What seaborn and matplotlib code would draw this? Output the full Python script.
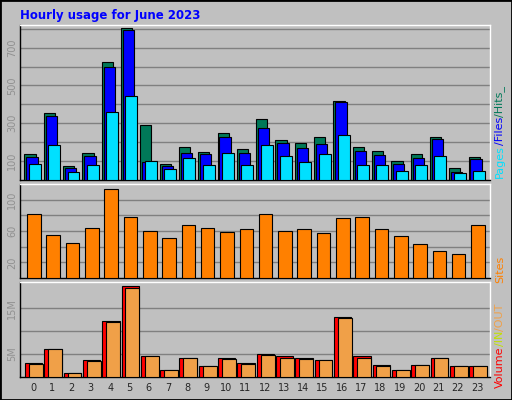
import numpy as np
import matplotlib
matplotlib.use("Agg")
import matplotlib.pyplot as plt
import seaborn as sns

sns.set_style("white")
plt.rcParams['font.family'] = ['DejaVu Sans']

hours = list(range(24))
hits = [137,353,75,142,626,802,289,84,174,147,247,163,321,211,195,226,416,174,153,100,137,226,63,121]
files = [123,337,63,128,596,795,96,75,142,137,226,142,274,195,168,189,411,153,132,84,116,216,42,111]
pages = [84,184,42,79,358,442,100,58,116,79,142,79,184,126,95,137,237,79,79,47,79,126,37,47]
sites = [82,55,45,64,113,78,60,51,68,64,59,63,82,60,63,58,77,78,63,53,43,34,31,68]
volume = [3.1,6.2,0.95,3.6,12.1,19.8,4.5,1.6,4.2,2.5,4.2,3.1,5.1,4.5,4.2,3.8,13.0,4.5,2.7,1.6,2.7,4.2,2.3,2.3]
vol_out = [2.9,6.0,0.95,3.4,11.9,19.3,4.5,1.6,4.2,2.5,4.0,2.9,4.9,4.2,4.0,3.6,12.8,4.2,2.5,1.6,2.7,4.2,2.3,2.3]

BG = "#C0C0C0"
fig = plt.figure(figsize=(5.12, 4.0), dpi=100, facecolor=BG)
W, H = 512, 400
def mk(y0, y1):
    return fig.add_axes([20/W, 1 - y1/H, 470/W, (y1 - y0)/H], facecolor=BG)

ax1 = mk(25, 180)
ax2 = mk(184, 278)
ax3 = mk(281.5, 377)

h = np.array(hours, dtype=float)
def bars(ax, off, vals, w, color):
    sns.barplot(x=h + off, y=vals, native_scale=True, width=w, color=color,
                edgecolor="black", linewidth=0.8, saturation=1, ax=ax, zorder=3)

bars(ax1, -0.15, hits, 0.58, "#007858")
bars(ax1, -0.05, files, 0.58, "#0000FF")
bars(ax1, 0.1, pages, 0.62, "#00E0FF")
bars(ax2, 0.05, sites, 0.7, "#FF8000")
bars(ax3, 0.04, volume, 0.9, "#FF0000")
bars(ax3, 0.15, vol_out, 0.72, "#F0A048")

for ax in (ax1, ax2, ax3):
    ax.set_xlim(-0.67, 23.67)
    ax.set_xlabel(""); ax.set_ylabel("")
    ax.tick_params(axis='y', labelsize=7, labelcolor="#909090", length=0, pad=2)
    for s in ax.spines.values():
        s.set_linewidth(1)
    ax.spines['left'].set_color("black"); ax.spines['bottom'].set_color("black")
    ax.spines['top'].set_color("white"); ax.spines['right'].set_color("white")

ax1.set_ylim(0, 820)
for v in range(100, 801, 100):
    ax1.axhline(v, color="#808080", lw=1, zorder=1)
ax1.set_yticks([100, 300, 500, 700])
ax1.set_xticks([])

ax2.set_ylim(0, 120)
for v in range(20, 101, 20):
    ax2.axhline(v, color="#808080", lw=1, zorder=1)
ax2.set_yticks([20, 60, 100])
ax2.set_xticks([])

ax3.set_ylim(0, 20.8)
for v in (5, 10, 15):
    ax3.axhline(v, color="#808080", lw=1, zorder=1)
ax3.set_yticks([5, 15]); ax3.set_yticklabels(["5M", "15M"])
ax3.set_xticks(hours); ax3.set_xticklabels([str(x) for x in hours])
ax3.tick_params(axis='x', labelsize=7, length=0, pad=4)

for ax in (ax1, ax2, ax3):
    for lab in ax.get_yticklabels():
        lab.set_rotation(90); lab.set_va("center")

fig.text(20/W, 1 - 15/H, "Hourly usage for June 2023", color="#0000FF",
         fontsize=8.5, fontweight="bold", va="center", ha="left")

fig.canvas.draw()
renderer = fig.canvas.get_renderer()
def vlabel(parts, ybottom):
    y = ybottom
    for txt, col in parts:
        t = fig.text(500/W, 1 - y/H, txt, color=col, rotation=90, fontsize=8,
                     ha="center", va="bottom")
        bb = t.get_window_extent(renderer)
        y -= bb.height
vlabel([("Pages", "#00E0FF"), ("/Files", "#0000FF"), ("/Hits_", "#007858")], 178)
vlabel([("Sites", "#FF8000")], 283)
vlabel([("Volume", "#FF0000"), ("/IN", "#C0E000"), ("/OUT", "#F0A048")], 388)

fig.patches.append(plt.Rectangle((0, 0), 1, 1, transform=fig.transFigure,
                                 fill=False, edgecolor="black", lw=2))
fig.savefig("out.png", dpi=100, facecolor=BG)
